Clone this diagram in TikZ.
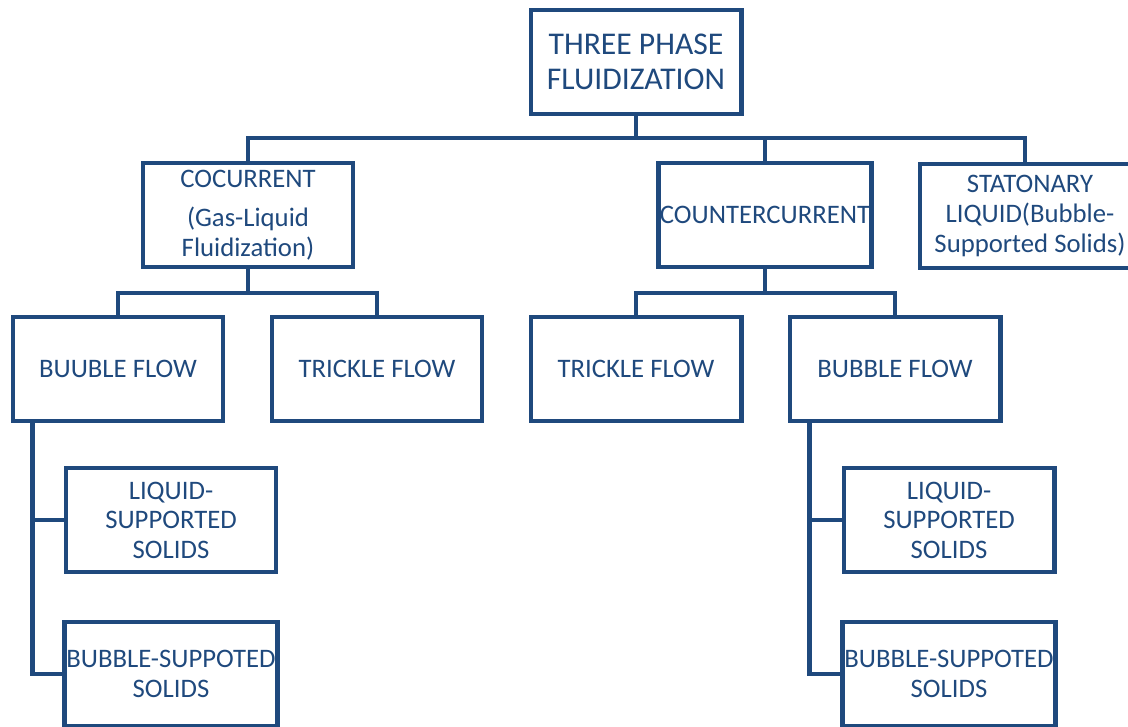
\documentclass[tikz,border=0pt]{standalone}
\usepackage{fontspec}
\setmainfont{Carlito}
\usepackage{tikz}
\usetikzlibrary{positioning}
\definecolor{dkblue}{RGB}{31,73,125}

\begin{document}
\begin{tikzpicture}[x=0.025cm,y=-0.025cm,
        box/.style={draw=dkblue,line width=3.5pt,minimum width=5.25cm,minimum height=2.6cm,inner sep=1pt,
                    align=center,text=dkblue,font=\fontsize{19}{21}\selectfont},
        link/.style={draw=dkblue,line width=3.5pt}]
        \useasboundingbox (0,0) rectangle (1128,726);
        \clip (0,0) rectangle (1128,726);
        \node[box,font=\fontsize{22.5}{24.5}\selectfont] at (636,62) (root) {THREE PHASE\\FLUIDIZATION};
        \node[box] at (248,215) (cocur) {COCURRENT\\[7pt](Gas-Liquid\\Fluidization)};
        \node[box] at (765,215) (counter) {COUNTERCURRENT};
        \node[box,minimum width=5.5cm] at (1030,216) (stat) {STATONARY\\LIQUID(Bubble-\\Supported Solids)};
        \node[box] at (118,369) (bubA) {BUUBLE FLOW};
        \node[box] at (377,369) (trickA) {TRICKLE FLOW};
        \node[box] at (636,369) (trickB) {TRICKLE FLOW};
        \node[box] at (895,369) (bubB) {BUBBLE FLOW};
        \node[box] at (171,520) (liqA) {LIQUID-\\SUPPORTED\\SOLIDS};
        \node[box] at (171,674) (bsA) {BUBBLE-SUPPOTED\\SOLIDS};
        \node[box] at (949,520) (liqB) {LIQUID-\\SUPPORTED\\SOLIDS};
        \node[box] at (949,674) (bsB) {BUBBLE-SUPPOTED\\SOLIDS};

        \coordinate (top) at (636,138);
        \coordinate (coj) at (248,293);
        \coordinate (ctj) at (765,293);
        \draw[link] (root) -- (top);
        \draw[link] (cocur.north) |- (top);
        \draw[link] (counter.north) |- (top);
        \draw[link] ([xshift=-0.125cm]stat.north) |- (top);
        \draw[link] (cocur) -- (coj);
        \draw[link] (bubA.north) |- (coj);
        \draw[link] (trickA.north) |- (coj);
        \draw[link] (counter) -- (ctj);
        \draw[link] (trickB.north) |- (ctj);
        \draw[link] (bubB.north) |- (ctj);
        \draw[link] ([xshift=0.55cm]bubA.south west) |- (liqA.west);
        \draw[link] ([xshift=0.55cm]bubA.south west) |- (bsA.west);
        \draw[link] ([xshift=0.55cm]bubB.south west) |- (liqB.west);
        \draw[link] ([xshift=0.55cm]bubB.south west) |- (bsB.west);
      \end{tikzpicture}
\end{document}
